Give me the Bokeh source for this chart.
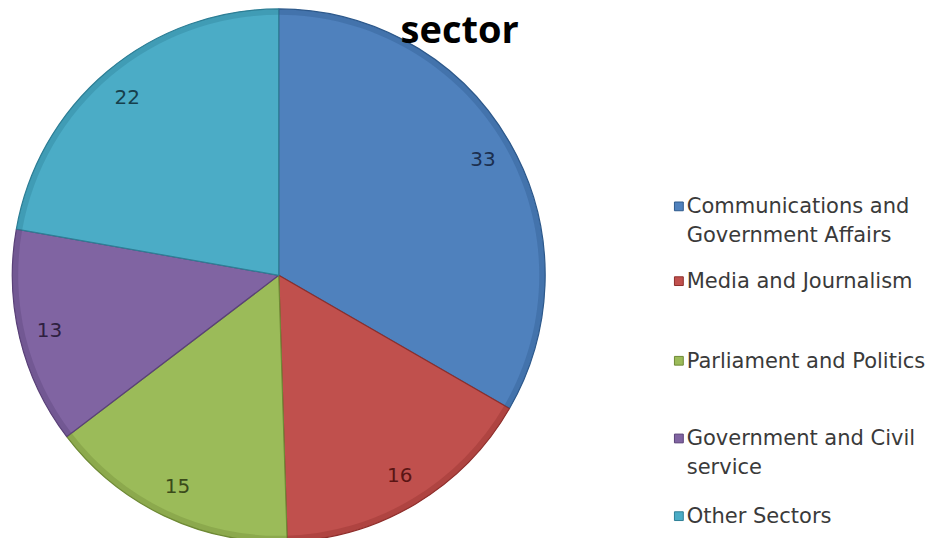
import math
from bokeh.plotting import figure
from bokeh.models import Range1d
from bokeh.core.properties import value
from bokeh.embed import file_html
from bokeh.resources import INLINE

# ---- data ----
categories = ["Communications and\nGovernment Affairs", "Media and Journalism",
              "Parliament and  Politics", "Government and Civil\nservice", "Other Sectors"]
values = [33, 16, 15, 13, 22]
colors = ["#4F81BD", "#C0504D", "#9BBB59", "#8064A2", "#4BACC6"]
edge_colors = ["#2E5A8C", "#8E2E2B", "#6F8A36", "#5A4178", "#2E7F96"]
label_colors = ["#1B2F4F", "#5A1514", "#3A4A1A", "#2E2040", "#163F4C"]
title_text = "sector"

# ---- layout (reference pixel coordinates, y negated; scaled to fit the canvas) ----
W, H = 933, 538
RW, RH = 949, 554
cx, cy, R = 283, -283, 271
legend_y = [212, 289, 371, 451, 531]
line_gap = 29

p = figure(width=W, height=H, output_backend="svg", toolbar_location=None,
           x_range=Range1d(0, RW), y_range=Range1d(-RH, 0),
           min_border=0)
p.axis.visible = False
p.grid.visible = False
p.outline_line_color = None
p.background_fill_color = "white"
p.border_fill_color = "white"

total = sum(values)
starts, ends, mids = [], [], []
a = math.pi / 2
for v in values:
    sweep = 2 * math.pi * v / total
    starts.append(a - sweep)
    ends.append(a)
    mids.append(a - sweep / 2)
    a -= sweep

# main slices
p.wedge(x=[cx] * len(values), y=[cy] * len(values), radius=R,
        start_angle=starts, end_angle=ends,
        fill_color=colors, line_color=edge_colors, line_width=1.2)
# subtle darker rim for bevel effect
p.annular_wedge(x=[cx] * len(values), y=[cy] * len(values), inner_radius=R - 6, outer_radius=R,
                start_angle=starts, end_angle=ends,
                fill_color=edge_colors, fill_alpha=0.35, line_color=None)

# value labels
lr = 0.885 * R
lx = [cx + lr * math.cos(m) for m in mids]
ly = [cy + lr * math.sin(m) for m in mids]
p.text(x=lx, y=ly, text=[str(v) for v in values], text_align="center",
       text_baseline="middle", text_font=value("DejaVu Sans"), text_font_size="20px",
       text_color=label_colors)

# legend
sq_x, tx = 690, 698
for i, (cat, col) in enumerate(zip(categories, colors)):
    y0 = legend_y[i]
    p.rect(x=[sq_x], y=[-y0], width=9, height=9, fill_color=col, line_color=edge_colors[i])
    lines = cat.split("\n")
    p.text(x=[tx] * len(lines), y=[-(y0 + k * line_gap) for k in range(len(lines))],
           text=lines, text_align="left", text_baseline="middle",
           text_font=value("DejaVu Sans"), text_font_size="21px", text_color="#3a3a3a")

# title
p.text(x=[467], y=[-28], text=[title_text], text_align="center", text_baseline="alphabetic",
       text_font=value("Open Sans"), text_font_size="38px", text_font_style="bold",
       text_color="#000000")

open("out.html", "w").write(file_html(p, INLINE))
